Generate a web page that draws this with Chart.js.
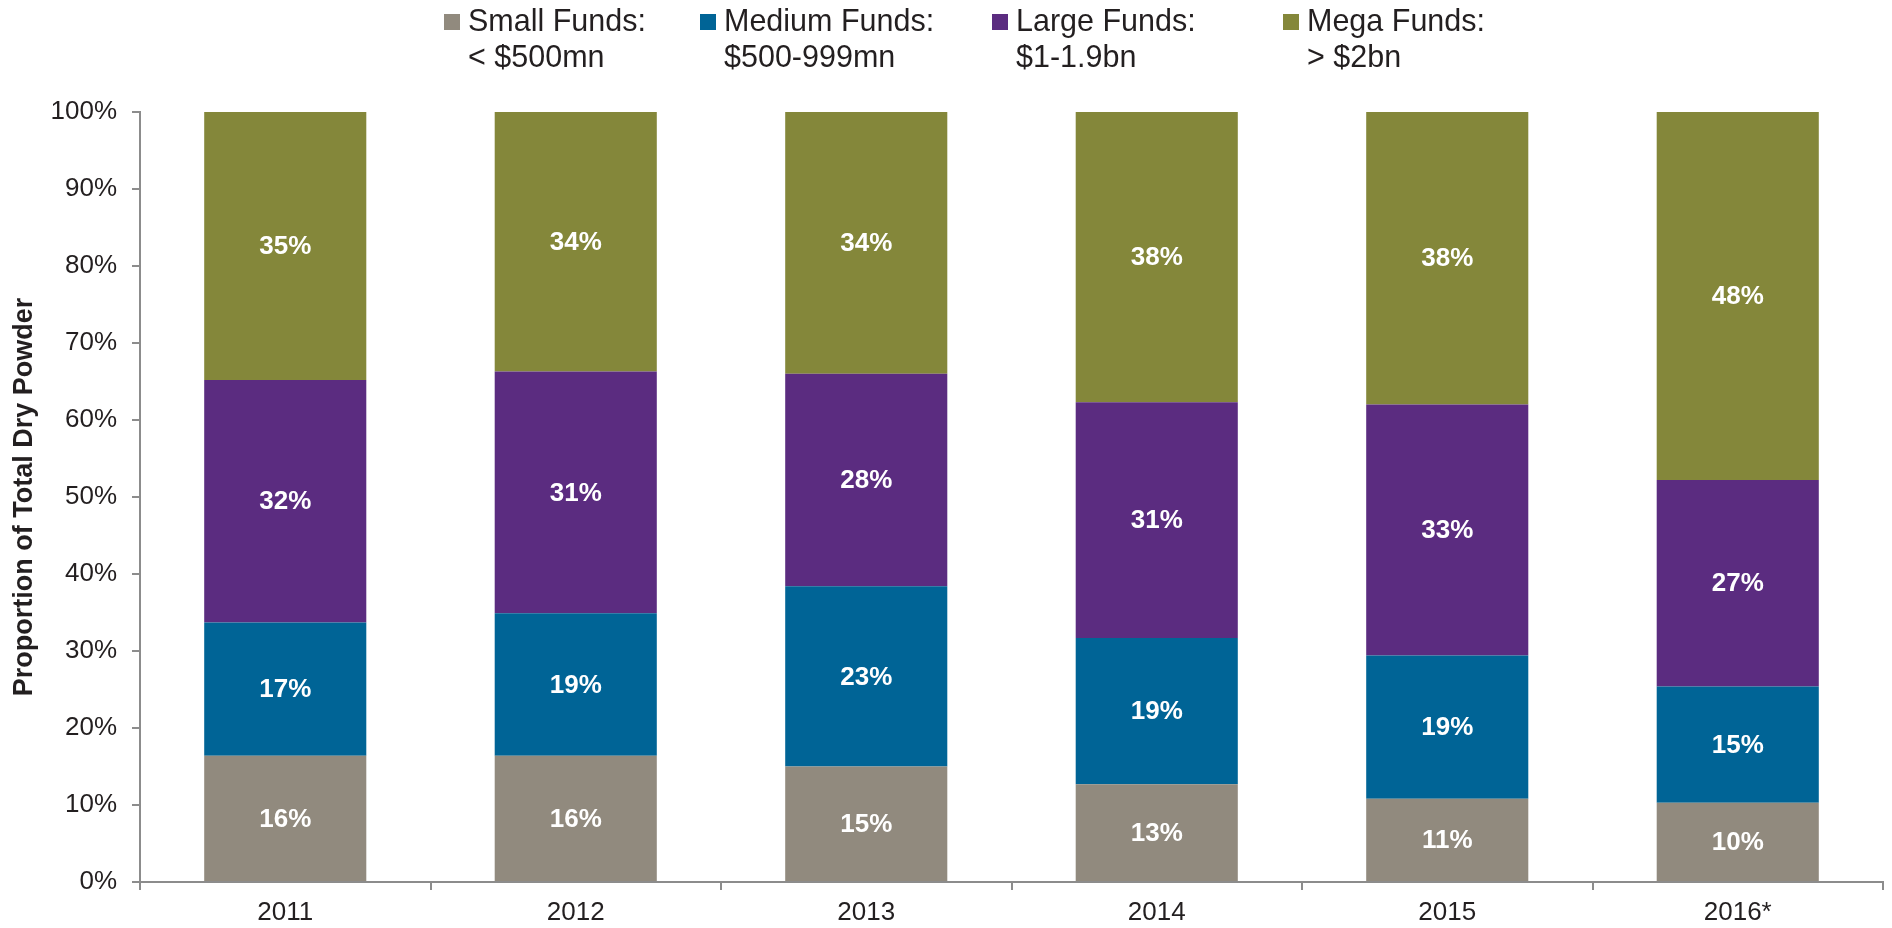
<!DOCTYPE html>
<html><head><meta charset="utf-8">
<script src="https://cdn.jsdelivr.net/npm/chart.js@4.4.1/dist/chart.umd.min.js"></script>
<style>html,body{margin:0;padding:0;background:#fff;}#wrap{width:1892px;height:928px;}</style>
</head><body><div id="wrap"><canvas id="c" width="1892" height="928"></canvas></div>
<script>
const categories = ['2011', '2012', '2013', '2014', '2015', '2016*'];
const seriesNames = ['Small Funds:', 'Medium Funds:', 'Large Funds:', 'Mega Funds:'];
const seriesSubtitles = ['< $500mn', '$500-999mn', '$1-1.9bn', '> $2bn'];
const smallFunds = [16.4, 16.4, 15.0, 12.7, 10.8, 10.3];
const mediumFunds = [17.3, 18.5, 23.4, 19.0, 18.6, 15.1];
const largeFunds = [31.5, 31.4, 27.6, 30.6, 32.6, 26.8];
const megaFunds = [34.8, 33.7, 34.0, 37.7, 38.0, 47.8];
const yTickValues = [0, 10, 20, 30, 40, 50, 60, 70, 80, 90, 100];
const yAxisTitle = 'Proportion of Total Dry Powder';

const seriesColors = ['#918A7E', '#006496', '#5B2C80', '#84873A'];
const legendX = [444, 700, 992, 1283];
const FONT = '"Liberation Sans", Arial, sans-serif';
const TEXT = '#231F20';
const AXIS = '#8C8C8C';

const seriesValues = [smallFunds, mediumFunds, largeFunds, megaFunds];

const barLabels = {
  id: 'barLabels',
  afterDatasetsDraw(chart) {
    const ctx = chart.ctx;
    ctx.save();
    ctx.fillStyle = '#FFFFFF';
    ctx.font = 'bold 26px ' + FONT;
    ctx.textAlign = 'center';
    ctx.textBaseline = 'middle';
    chart.data.datasets.forEach((ds, di) => {
      const meta = chart.getDatasetMeta(di);
      meta.data.forEach((bar, i) => {
        const v = ds.data[i];
        const cy = (bar.y + bar.base) / 2;
        ctx.fillText(Math.round(v) + '%', bar.x, cy + 1);
      });
    });
    ctx.restore();
  }
};

const topLegend = {
  id: 'topLegend',
  afterDraw(chart) {
    const ctx = chart.ctx;
    ctx.save();
    ctx.font = '30.5px ' + FONT;
    ctx.textBaseline = 'middle';
    ctx.textAlign = 'left';
    chart.data.datasets.forEach((ds, i) => {
      const x = legendX[i];
      ctx.fillStyle = ds.backgroundColor;
      ctx.fillRect(x, 14, 16, 16);
      ctx.fillStyle = TEXT;
      ctx.fillText(seriesNames[i], x + 24, 23);
      ctx.fillText(seriesSubtitles[i], x + 24, 59);
    });
    ctx.restore();
  }
};

new Chart(document.getElementById('c'), {
  type: 'bar',
  data: {
    labels: categories,
    datasets: seriesValues.map((vals, i) => ({
      label: seriesNames[i] + ' ' + seriesSubtitles[i],
      data: vals,
      backgroundColor: seriesColors[i],
      borderWidth: 0,
      categoryPercentage: 1,
      barPercentage: 0.558
    }))
  },
  options: {
    responsive: false,
    animation: false,
    devicePixelRatio: 1,
    layout: { padding: { top: 112, right: 9, left: 0, bottom: 0 } },
    plugins: { legend: { display: false }, tooltip: { enabled: false } },
    scales: {
      x: {
        stacked: true,
        grid: { drawOnChartArea: false, drawTicks: true, tickLength: 8, color: AXIS, lineWidth: 2, offset: true },
        border: { color: AXIS, width: 2 },
        ticks: { color: TEXT, font: { family: FONT, size: 26 }, padding: 7, maxRotation: 0 },
        afterFit(s) { s.height = 46; }
      },
      y: {
        stacked: true,
        min: 0, max: 100,
        afterBuildTicks(s) { s.ticks = yTickValues.map(v => ({ value: v })); },
        grid: { drawOnChartArea: false, drawTicks: true, tickLength: 8, color: AXIS, lineWidth: 2 },
        border: { color: AXIS, width: 2 },
        ticks: { color: TEXT, font: { family: FONT, size: 26 }, padding: 15, callback: v => v + '%' },
        title: { display: true, text: yAxisTitle, color: TEXT, font: { family: FONT, size: 27, weight: 'bold' }, padding: { top: 8, bottom: 0 } },
        afterFit(s) { s.width = 140; }
      }
    }
  },
  plugins: [barLabels, topLegend]
});
</script>
</body></html>
